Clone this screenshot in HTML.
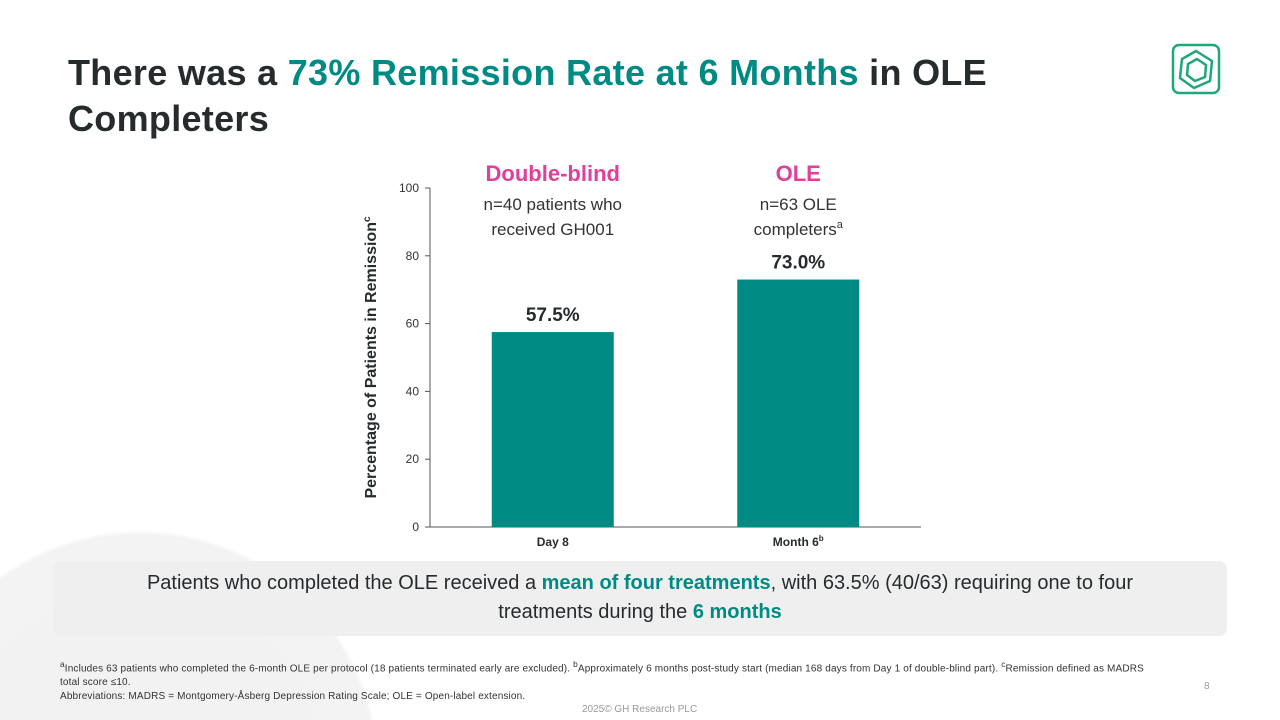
<!DOCTYPE html>
<html><head><meta charset="utf-8">
<style>
html,body{margin:0;padding:0;width:1280px;height:720px;overflow:hidden;background:#fff}
#wrap{position:relative;width:1280px;height:720px;overflow:hidden;font-family:"Liberation Sans","DejaVu Sans",sans-serif;background:radial-gradient(circle 240px at 140px 770px,#f1f1f1 0,#f3f3f3 235px,rgba(255,255,255,0) 240px) #fff}
h1{position:absolute;left:68px;top:50px;margin:0;font-size:36px;line-height:46px;font-weight:bold;color:#262b2e;width:1000px;letter-spacing:0.3px}
.t{color:#008a84}
.callout{position:absolute;left:53px;top:561px;width:1174px;height:75px;background:#efefef;border-radius:8px;text-align:center;font-size:20px;line-height:29px;color:#262b2e;padding:8px 52px 0;box-sizing:border-box}
.callout b{color:#008a84}
.foot{position:absolute;left:60px;top:657px;font-size:10px;line-height:14px;color:#333;width:1160px;letter-spacing:0.15px}
.pg{position:absolute;left:1204px;top:681px;font-size:10px;color:#999}
.copy{position:absolute;left:582px;top:704px;font-size:10px;line-height:12px;color:#999}
</style></head><body>
<div id="wrap">
<h1>There was a <span class="t">73% Remission Rate at 6 Months</span> in OLE Completers</h1>
<svg style="position:absolute;left:1170px;top:42px" width="52" height="54" viewBox="0 0 52 54">
<rect x="3" y="3" width="46" height="48" rx="6" fill="none" stroke="#1fa77a" stroke-width="2.5"/>
<polygon points="26,9 42,19 40,39 24,46 10,36 12,17" fill="none" stroke="#1fa77a" stroke-width="2.5"/>
<polygon points="27,17 36,23 35,35 25,39 17,33 18,22" fill="none" stroke="#1fa77a" stroke-width="2.5"/>
</svg>
<svg id="chart" style="position:absolute;left:0;top:0" width="1280" height="560"></svg>
<div class="callout">Patients who completed the OLE received a <b>mean of four treatments</b>, with 63.5% (40/63) requiring one to four treatments during the <b>6 months</b></div>
<div class="foot"><sup>a</sup>Includes 63 patients who completed the 6-month OLE per protocol (18 patients terminated early are excluded). <sup>b</sup>Approximately 6 months post-study start (median 168 days from Day 1 of double-blind part). <sup>c</sup>Remission defined as MADRS<br>total score ≤10.<br>Abbreviations: MADRS = Montgomery-Åsberg Depression Rating Scale; OLE = Open-label extension.</div>
<div class="pg">8</div>
<div class="copy">2025© GH Research PLC</div>
</div>
<script>
const categories=["Day 8","Month 6"];
const catSup=["","b"];
const values=[57.5,73.0];
const valueLabels=["57.5%","73.0%"];
const yTicks=[0,20,40,60,80,100];
const NS="http://www.w3.org/2000/svg";
const svg=document.getElementById('chart');
const x0=430,x1=921,y0=527,y1=188;
const y=v=>y0-(v/100)*(y0-y1);
const band=(x1-x0)/categories.length;
const cx=i=>x0+band*(i+0.5);
const bw=122;
function mk(t,a,txt){const e=document.createElementNS(NS,t);for(const k in a)e.setAttribute(k,a[k]);if(txt!==undefined)e.textContent=txt;svg.appendChild(e);return e;}
let e;
e=mk('line',{x1:x0,y1:y1,x2:x0,y2:y0,stroke:'#555','stroke-width':1});


e=mk('line',{x1:x0,y1:y0,x2:x1,y2:y0,stroke:'#555','stroke-width':1});


yTicks.forEach(t=>{
 e=mk('line',{x1:x0-5,y1:y(t),x2:x0,y2:y(t),stroke:'#555'});
 
 
 e=mk('text',{x:x0-11,y:y(t)+4,'text-anchor':'end','font-size':12,fill:'#333'},t);
 
 
});
e=mk('text',{x:376,y:(y0+y1)/2,'text-anchor':'middle','font-size':16,'font-weight':'bold',fill:'#262b2e',transform:`rotate(-90 376 ${(y0+y1)/2})`},'Percentage of Patients in Remission');


const sp=document.createElementNS(NS,'tspan');sp.setAttribute('font-size','10');sp.setAttribute('dy','-6');sp.textContent='c';e.appendChild(sp);
values.forEach((v,i)=>{
 e=mk('rect',{x:cx(i)-bw/2,y:y(v),width:bw,height:y0-y(v),fill:'#008a84'});
 
 
 e=mk('text',{x:cx(i),y:y(v)-11,'text-anchor':'middle','font-size':19,'font-weight':'bold',fill:'#262b2e'},valueLabels[i]);
 
 
 e=mk('text',{x:cx(i),y:546,'text-anchor':'middle','font-size':12,'font-weight':'bold',fill:'#262b2e'},categories[i]);
 
 
 if(catSup[i]){const s=document.createElementNS(NS,'tspan');s.setAttribute('font-size','8');s.setAttribute('dy','-5');s.textContent=catSup[i];e.appendChild(s);}
});
const heads=[["Double-blind","#e0409a","n=40 patients who","received GH001",""],["OLE","#e0409a","n=63 OLE","completers","a"]];
heads.forEach((h,i)=>{
 e=mk('text',{x:cx(i),y:181,'text-anchor':'middle','font-size':22,'font-weight':'bold',fill:h[1]},h[0]);
 
 
 e=mk('text',{x:cx(i),y:210,'text-anchor':'middle','font-size':17,fill:'#333'},h[2]);
 
 
 e=mk('text',{x:cx(i),y:235,'text-anchor':'middle','font-size':17,fill:'#333'},h[3]);
 
 
 if(h[4]){const s=document.createElementNS(NS,'tspan');s.setAttribute('font-size','11');s.setAttribute('dy','-7');s.textContent=h[4];e.appendChild(s);}
});
</script>
</body></html>
